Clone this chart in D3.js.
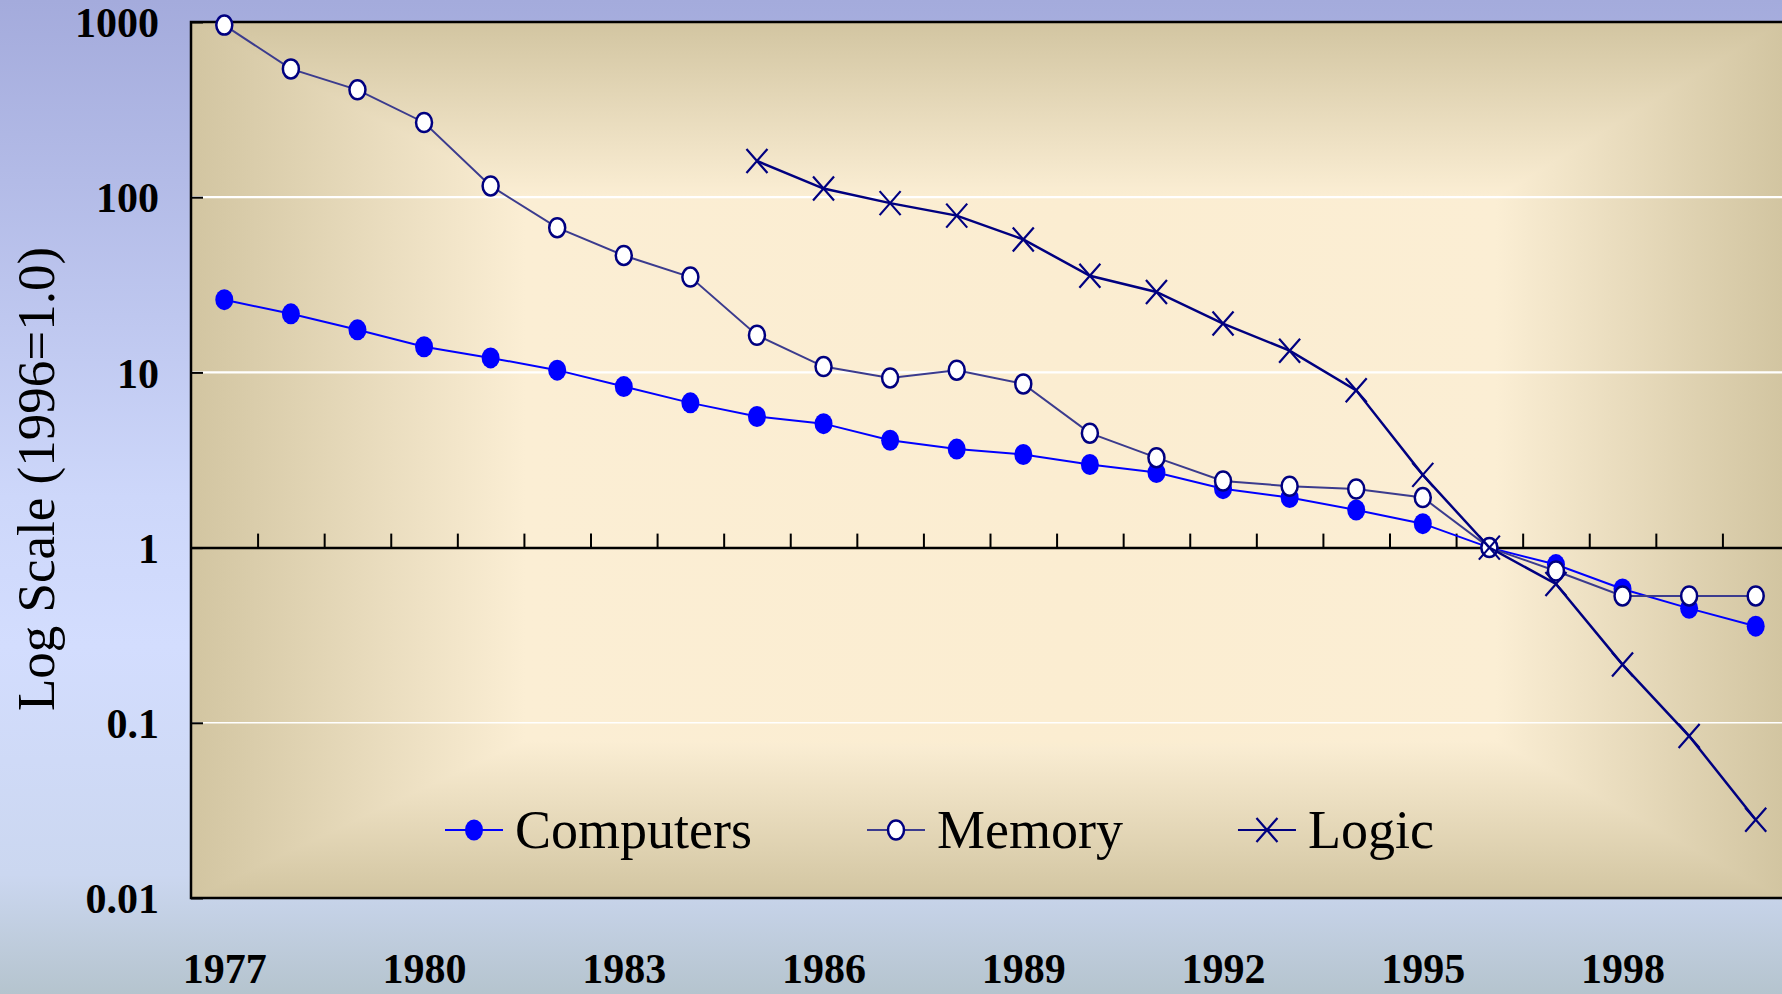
<!DOCTYPE html>
<html>
<head>
<meta charset="utf-8">
<script src="https://cdn.jsdelivr.net/npm/d3@7"></script>
<style>
  body { margin: 0; overflow: hidden; }
  svg { display: block; font-family: "Liberation Serif", "Times New Roman", serif; }
</style>
</head>
<body>
<div id="chart"></div>
<script>
// categories
const years = [1977, 1978, 1979, 1980, 1981, 1982, 1983, 1984, 1985, 1986, 1987, 1988,
               1989, 1990, 1991, 1992, 1993, 1994, 1995, 1996, 1997, 1998, 1999, 2000];
const logicYears = [1985, 1986, 1987, 1988, 1989, 1990, 1991, 1992,
                    1993, 1994, 1995, 1996, 1997, 1998, 1999, 2000];

// series values (1996 = 1.0)
const computers = [26, 21.6, 17.5, 14.0, 12.1, 10.3, 8.3, 6.7, 5.6, 5.1, 4.1, 3.65,
                   3.4, 2.98, 2.68, 2.17, 1.93, 1.64, 1.37, 1, 0.8, 0.58, 0.45, 0.356];
const memory = [960, 540, 410, 267, 116, 67, 46.5, 35, 16.3, 10.8, 9.3, 10.3,
                8.6, 4.5, 3.26, 2.4, 2.24, 2.16, 1.93, 1, 0.735, 0.53, 0.53, 0.53];
const logic = [161, 112, 92.5, 78.5, 57.4, 35.6, 28.8, 19, 13.3, 7.9, 2.6, 1,
               0.62, 0.215, 0.084, 0.028];

// tick labels
const yTicks = [0.01, 0.1, 1, 10, 100, 1000];
const xLabels = [1977, 1980, 1983, 1986, 1989, 1992, 1995, 1998];
const yTitle = 'Log Scale (1996=1.0)';

const width = 1782, height = 994;
const plot = { left: 191, top: 22, bottom: 898, right: 1789 };

const x = d3.scaleLinear()
    .domain([1976.5, 2000.5])
    .range([plot.left, plot.right]);

const y = d3.scaleLog()
    .domain([0.01, 1000])
    .range([plot.bottom, plot.top]);

const svg = d3.select('#chart')
    .append('svg')
    .attr('width', width)
    .attr('height', height);

const defs = svg.append('defs');

// page background
const pageGrad = defs.append('linearGradient')
    .attr('id', 'pageGrad')
    .attr('x1', 0).attr('y1', 0).attr('x2', 0).attr('y2', 1);
[[0, '#a4abdc'], [0.5, '#cdd7fa'], [0.65, '#d3ddfe'], [0.88, '#cbd7f0'], [1, '#b5c4ce']]
    .forEach(s => pageGrad.append('stop').attr('offset', s[0]).attr('stop-color', s[1]));

svg.append('rect')
    .attr('width', width)
    .attr('height', height)
    .attr('fill', 'url(#pageGrad)');

// plot area: rectangular gradient made of two linear ones, darker wins
const tan = '#d2c5a1', cream = '#fbeed4';
const hGrad = defs.append('linearGradient')
    .attr('id', 'hGrad')
    .attr('x1', 0).attr('y1', 0).attr('x2', 1).attr('y2', 0);
[[0, tan], [0.21, cream], [0.55, '#fcedd1'], [0.82, cream], [1, tan]]
    .forEach(s => hGrad.append('stop').attr('offset', s[0]).attr('stop-color', s[1]));

const vGrad = defs.append('linearGradient')
    .attr('id', 'vGrad')
    .attr('x1', 0).attr('y1', 0).attr('x2', 0).attr('y2', 1);
[[0, tan], [0.2, cream], [0.82, cream], [1, tan]]
    .forEach(s => vGrad.append('stop').attr('offset', s[0]).attr('stop-color', s[1]));

const bg = svg.append('g').style('isolation', 'isolate');
bg.append('rect')
    .attr('x', plot.left).attr('y', plot.top)
    .attr('width', width - plot.left).attr('height', plot.bottom - plot.top)
    .attr('fill', 'url(#hGrad)');
bg.append('rect')
    .attr('x', plot.left).attr('y', plot.top)
    .attr('width', width - plot.left).attr('height', plot.bottom - plot.top)
    .attr('fill', 'url(#vGrad)')
    .style('mix-blend-mode', 'darken');

// white gridlines
svg.append('g')
    .selectAll('line')
    .data([100, 10, 0.1])
    .join('line')
    .attr('x1', plot.left).attr('x2', plot.right)
    .attr('y1', d => y(d)).attr('y2', d => y(d))
    .attr('stroke', '#ffffff')
    .attr('stroke-width', d => d === 0.1 ? 1.5 : 2.2);

// y axis (ticks point inward)
const yAxis = d3.axisLeft(y)
    .tickValues(yTicks)
    .tickFormat(d => String(d))
    .tickSizeInner(-12)
    .tickSizeOuter(0)
    .tickPadding(32);

const yAxisGroup = svg.append('g')
    .attr('transform', `translate(${plot.left},0)`)
    .call(yAxis);
yAxisGroup.select('.domain').remove();
yAxisGroup.selectAll('line').attr('stroke', '#000').attr('stroke-width', 2);
yAxisGroup.selectAll('text')
    .attr('dy', '0.35em')
    .style('font-family', '"Liberation Serif", "Times New Roman", serif')
    .style('font-size', '42px')
    .style('font-weight', 'bold')
    .attr('fill', '#000');

// baseline at 1.0 with category separators
const boundaries = years.slice(0, -1).map(d => d + 0.5);
const midAxis = d3.axisTop(x)
    .tickValues(boundaries)
    .tickFormat('')
    .tickSizeInner(14)
    .tickSizeOuter(0);

const midGroup = svg.append('g')
    .attr('transform', `translate(0,${y(1)})`)
    .call(midAxis);
midGroup.select('.domain').attr('stroke', '#000').attr('stroke-width', 2.5);
midGroup.selectAll('.tick line').attr('stroke', '#000').attr('stroke-width', 2);

// year labels at the bottom
const xAxis = d3.axisBottom(x)
    .tickValues(xLabels)
    .tickFormat(d => String(d))
    .tickSize(0)
    .tickPadding(0);

const xAxisGroup = svg.append('g')
    .attr('transform', `translate(0,${plot.bottom})`)
    .call(xAxis);
xAxisGroup.select('.domain').remove();
xAxisGroup.selectAll('text')
    .attr('y', 85)
    .attr('dy', 0)
    .style('font-family', '"Liberation Serif", "Times New Roman", serif')
    .style('font-size', '42px')
    .style('font-weight', 'bold')
    .attr('fill', '#000');

// frame
svg.append('path')
    .attr('d', `M${width + 5},${plot.top}H${plot.left}V${plot.bottom}H${width + 5}`)
    .attr('fill', 'none')
    .attr('stroke', '#000')
    .attr('stroke-width', 2.5);

// y title
svg.append('text')
    .attr('transform', `translate(54,${(plot.top + plot.bottom) / 2 + 19}) rotate(-90)`)
    .attr('text-anchor', 'middle')
    .style('font-size', '53px')
    .attr('fill', '#000')
    .text(yTitle);

// series
const line = d3.line()
    .x(d => x(d.year))
    .y(d => y(d.value));

const toPoints = (ys, vs) => ys.map((yr, i) => ({ year: yr, value: vs[i] }));

const series = [
    { name: 'Computers', data: toPoints(years, computers), line: '#0000ff', lineWidth: 2, marker: 'filled' },
    { name: 'Memory', data: toPoints(years, memory), line: '#3b3b8e', lineWidth: 2, marker: 'open' },
    { name: 'Logic', data: toPoints(logicYears, logic), line: '#000080', lineWidth: 2.5, marker: 'cross' }
];

function drawMarker(g, kind) {
    if (kind === 'filled') {
        g.append('ellipse').attr('rx', 9).attr('ry', 10.5).attr('fill', '#0000ff');
    } else if (kind === 'open') {
        g.append('ellipse').attr('rx', 8).attr('ry', 9.5)
            .attr('fill', '#ffffff').attr('stroke', '#000080').attr('stroke-width', 2.5);
    } else {
        g.append('path')
            .attr('d', 'M-10.5,-12L10.5,12M-10.5,12L10.5,-12')
            .attr('fill', 'none').attr('stroke', '#000080').attr('stroke-width', 2.2);
    }
}

series.forEach(s => {
    const g = svg.append('g');
    g.append('path')
        .datum(s.data)
        .attr('d', line)
        .attr('fill', 'none')
        .attr('stroke', s.line)
        .attr('stroke-width', s.lineWidth);

    g.selectAll('g.marker')
        .data(s.data)
        .join('g')
        .attr('class', 'marker')
        .attr('transform', d => `translate(${x(d.year)},${y(d.value)})`)
        .each(function () { drawMarker(d3.select(this), s.marker); });
});

// legend
const legendY = 830;
let lx = 445;
series.forEach(s => {
    const g = svg.append('g').attr('transform', `translate(${lx},${legendY})`);
    g.append('line')
        .attr('x1', 0).attr('x2', 58)
        .attr('stroke', s.line).attr('stroke-width', 2);
    const m = g.append('g').attr('transform', 'translate(29,0)');
    drawMarker(m, s.marker);
    const t = g.append('text')
        .attr('x', 70)
        .attr('y', 18)
        .style('font-size', '54px')
        .attr('fill', '#000')
        .text(s.name);
    lx += 70 + t.node().getComputedTextLength() + 115;
});
</script>
</body>
</html>
